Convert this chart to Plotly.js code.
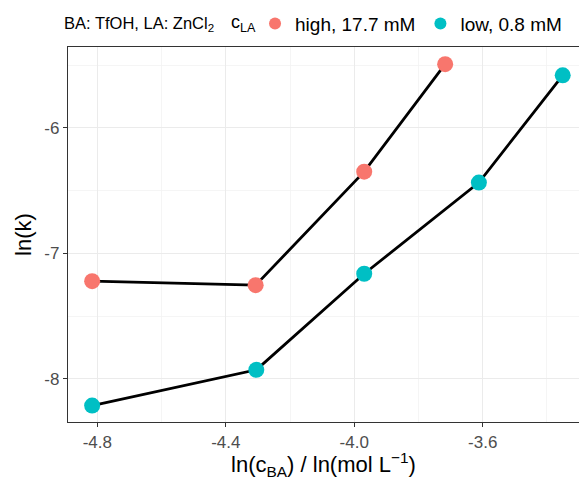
<!DOCTYPE html>
<html>
<head>
<meta charset="utf-8">
<script src="https://cdn.plot.ly/plotly-3.0.1.min.js"></script>
<style>html,body{margin:0;padding:0;overflow:hidden;background:#fff}</style>
</head>
<body>
<div id="chart" style="width:579px;height:480px"></div>
<script>
// Data
const seriesNames = ["high, 17.7 mM", "low, 0.8 mM"];
const seriesColors = ["#F8766D", "#00BFC4"];
const highX = [-4.816, -4.307, -3.969, -3.717];
const highY = [-7.222, -7.254, -6.349, -5.492];
const lowX = [-4.816, -4.305, -3.969, -3.612, -3.351];
const lowY = [-8.214, -7.929, -7.163, -6.436, -5.581];
const xTicks = [-4.8, -4.4, -4.0, -3.6];
const xTickLabels = ["-4.8", "-4.4", "-4.0", "-3.6"];
const yTicks = [-8, -7, -6];
const yTickLabels = ["-8", "-7", "-6"];

const xs = [highX, lowX];
const ys = [highY, lowY];
const traces = [];
for (let i = 0; i < 2; i++) {
  traces.push({x: xs[i], y: ys[i], type: "scatter", mode: "lines",
    line: {color: "#000000", width: 2.8}, showlegend: false, hoverinfo: "skip"});
}
for (let i = 0; i < 2; i++) {
  traces.push({x: xs[i], y: ys[i], type: "scatter", mode: "markers",
    name: seriesNames[i], marker: {color: seriesColors[i], size: 16}});
}

const font = "Liberation Sans, Arial, sans-serif";
const layout = {
  width: 579, height: 480,
  margin: {l: 68, r: 0, t: 47, b: 58},
  paper_bgcolor: "#fff", plot_bgcolor: "#fff",
  font: {family: font, color: "#000"},
  showlegend: true,
  legend: {orientation: "h", x: 0.366, xanchor: "left", y: 1.062, yanchor: "middle",
    font: {size: 19, color: "#000"}, itemsizing: "constant", bgcolor: "rgba(0,0,0,0)"},
  annotations: [
    {xref: "paper", yref: "paper", x: -0.012, y: 1.062, xanchor: "left", yanchor: "middle",
     text: "BA: TfOH, LA: ZnCl<sub>2</sub>", showarrow: false, font: {size: 16.5, color: "#000"}},
    {xref: "paper", yref: "paper", x: 0.315, y: 1.062, xanchor: "left", yanchor: "middle",
     text: "c<sub>LA</sub>", showarrow: false, font: {size: 18, color: "#000"}}
  ],
  xaxis: {range: [-4.8912, -3.3003], tickvals: xTicks, ticktext: xTickLabels,
    showgrid: true, gridcolor: "#EBEBEB", gridwidth: 1.2,
    minor: {dtick: 0.2, tick0: -4.8, showgrid: true, gridcolor: "#F2F2F2", gridwidth: 0.8},
    showline: true, mirror: true, linecolor: "#333333", linewidth: 1.2,
    ticks: "outside", ticklen: 4, tickcolor: "#333333", tickwidth: 1.2,
    tickfont: {size: 17, color: "#4D4D4D"}, zeroline: false,
    title: {text: "ln(c<sub>BA</sub>) / ln(mol L<sup>\u22121</sup>)", font: {size: 22, color: "#000"}, standoff: 4}},
  yaxis: {range: [-8.3446, -5.3554], tickvals: yTicks, ticktext: yTickLabels,
    showgrid: true, gridcolor: "#EBEBEB", gridwidth: 1.2,
    minor: {dtick: 0.5, tick0: -8, showgrid: true, gridcolor: "#F2F2F2", gridwidth: 0.8},
    showline: true, mirror: false, linecolor: "#333333", linewidth: 1.2,
    ticks: "outside", ticklen: 4, tickcolor: "#333333", tickwidth: 1.2,
    tickfont: {size: 17, color: "#4D4D4D"}, zeroline: false,
    title: {text: "ln(k)", font: {size: 22, color: "#000"}, standoff: 6}}
};
Plotly.newPlot("chart", traces, layout, {staticPlot: true, displayModeBar: false});
</script>
</body>
</html>
